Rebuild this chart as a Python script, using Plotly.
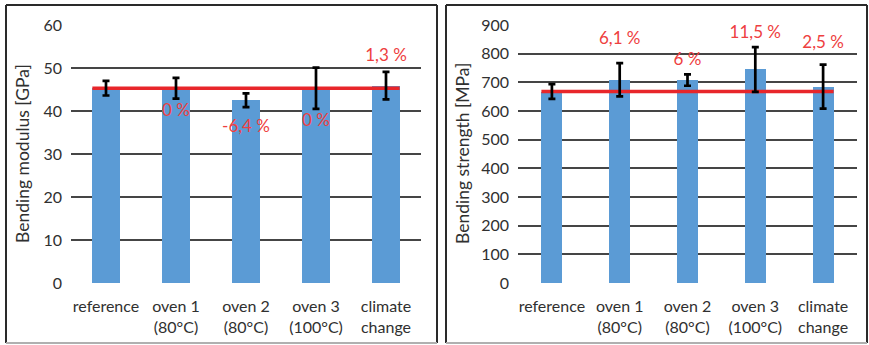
import plotly.graph_objects as go

# ---------------- data ----------------
categories = ["reference", "oven 1<br>(80°C)", "oven 2<br>(80°C)", "oven 3<br>(100°C)", "climate<br>change"]

modulus_gpa = [45.3, 45.3, 42.5, 45.3, 45.9]
modulus_err = [1.7, 2.4, 1.6, 4.8, 3.2]
modulus_labels = ["", "0 %", "-6,4 %", "0 %", "1,3 %"]
modulus_label_y = [None, 39.8, 36.0, 37.4, 52.6]

strength_mpa = [668, 709, 708, 745, 685]
strength_err = [26, 58, 20, 78, 77]
strength_labels = ["", "6,1 %", "6 %", "11,5 %", "2,5 %"]
strength_label_y = [None, 848, 774, 868, 833]

modulus_ticks = [0, 10, 20, 30, 40, 50, 60]
strength_ticks = [0, 100, 200, 300, 400, 500, 600, 700, 800, 900]

# ---------------- style ----------------
W, H = 869, 345
FONT = "Lato"
TXT = "#303030"
BAR = "#5B9BD5"
RED = "#E8262A"
LABEL_RED = "#EE4040"
GRID = "#454545"

xs = list(range(len(categories)))

fig = go.Figure()


def add_panel(vals, errs, labels, label_y, xa, ya, bar_w):
    fig.add_trace(go.Bar(x=xs, y=vals, width=bar_w, marker=dict(color=BAR, line=dict(width=0)),
                         xaxis=xa, yaxis=ya, showlegend=False, hoverinfo="skip"))
    ref = vals[0]
    fig.add_trace(go.Scatter(x=[xs[0] - bar_w / 2, xs[-1] + bar_w / 2], y=[ref, ref], mode="lines",
                             line=dict(color=RED, width=3.5), xaxis=xa, yaxis=ya,
                             showlegend=False, hoverinfo="skip"))
    fig.add_trace(go.Scatter(x=xs, y=vals, mode="markers", marker=dict(size=1, opacity=0),
                             error_y=dict(type="data", array=errs, visible=True, color="black",
                                          thickness=2.7, width=3.5),
                             xaxis=xa, yaxis=ya, showlegend=False, hoverinfo="skip"))
    lx = [x for x, t in zip(xs, labels) if t]
    ly = [y for y, t in zip(label_y, labels) if t]
    lt = [t for t in labels if t]
    fig.add_trace(go.Scatter(x=lx, y=ly, mode="text", text=lt, textposition="middle center",
                             textfont=dict(family=FONT, size=17, color=LABEL_RED),
                             xaxis=xa, yaxis=ya, showlegend=False, hoverinfo="skip"))


add_panel(modulus_gpa, modulus_err, modulus_labels, modulus_label_y, "x", "y", 0.39)
add_panel(strength_mpa, strength_err, strength_labels, strength_label_y, "x2", "y2", 0.31)


def px(v):
    return v / W


def py(v):
    return 1 - v / H


ydom = [py(283), py(25)]
xaxis_common = dict(tickmode="array", tickvals=xs, ticktext=categories, range=[-0.5, len(xs) - 0.5],
                    showgrid=False, zeroline=False, showline=False, ticks="", automargin=False,
                    tickfont=dict(family=FONT, size=16, color=TXT), ticklabelstandoff=12)
yaxis_common = dict(showgrid=True, gridcolor=GRID, gridwidth=1.6, zeroline=False, showline=False,
                    ticks="", automargin=False,
                    tickfont=dict(family=FONT, size=16, color=TXT), ticklabelstandoff=8)

fig.update_layout(
    template="none",
    width=W, height=H,
    margin=dict(l=0, r=0, t=0, b=0, pad=0, autoexpand=False),
    paper_bgcolor="white", plot_bgcolor="white",
    font=dict(family=FONT, color=TXT),
    xaxis=dict(domain=[px(71), px(421)], anchor="y", **xaxis_common),
    yaxis=dict(domain=ydom, anchor="x", range=[0, 60], tickvals=modulus_ticks, **yaxis_common),
    xaxis2=dict(domain=[px(518), px(857)], anchor="y2", **xaxis_common),
    yaxis2=dict(domain=ydom, anchor="x2", range=[0, 900], tickvals=strength_ticks, **yaxis_common),
    bargap=0,
    showlegend=False,
)

# y-axis titles
for xpos, title in [(23, "Bending modulus [GPa]"), (463, "Bending strength [MPa]")]:
    fig.add_annotation(x=px(xpos), y=py(154), xref="paper", yref="paper", text=title,
                       textangle=-90, showarrow=False, font=dict(family=FONT, size=17.5, color=TXT),
                       xanchor="center", yanchor="middle")

# panel frames
for (x0, x1) in [(6, 437), (446, 867)]:
    for (a, b, c, d, col) in [(x0, 5, x1, 5, "#2a2a2a"), (x0, 5, x0, 343, "#2a2a2a"),
                              (x1, 5, x1, 343, "#2a2a2a"), (x0, 343, x1, 343, "#b0b0b0")]:
        fig.add_shape(type="line", xref="paper", yref="paper", x0=px(a), y0=py(b), x1=px(c), y1=py(d),
                      line=dict(color=col, width=2))

post = (
    "document.documentElement.style.margin='0';"
    "document.documentElement.style.overflow='hidden';"
    "document.body.style.margin='0';"
    "document.body.style.overflow='hidden';"
    "var gd=document.getElementById('{plot_id}');"
    "gd.style.position='fixed';gd.style.top='0px';gd.style.left='0px';"
)
fig.write_html("out.html", post_script=post, config={"displayModeBar": False})
